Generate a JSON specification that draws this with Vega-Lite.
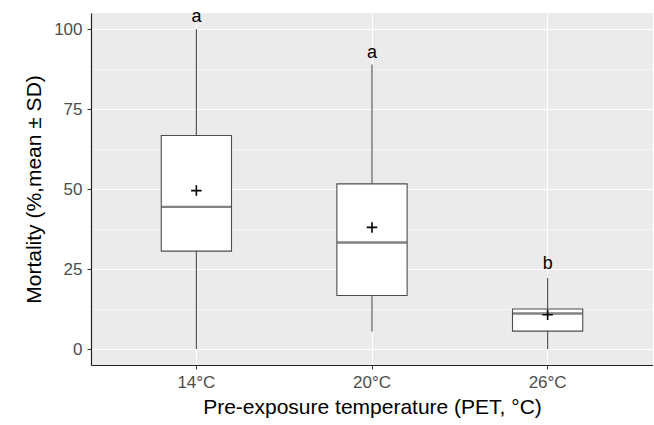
{
  "$schema": "https://vega.github.io/schema/vega-lite/v6.json",
  "width": 562,
  "height": 352,
  "autosize": {"type": "none"},
  "padding": {"left": 91, "top": 13, "right": 0, "bottom": 60},
  "background": "white",
  "config": {
    "view": {"fill": "#EBEBEB", "stroke": null},
    "font": "Liberation Sans",
    "axis": {
      "domainColor": "#222222",
      "domainWidth": 1.2,
      "tickColor": "#333333",
      "tickWidth": 1,
      "tickSize": 4,
      "labelColor": "#4D4D4D",
      "labelFontSize": 17,
      "labelFont": "Liberation Sans",
      "titleFont": "Liberation Sans",
      "titleFontSize": 21,
      "titleFontWeight": "normal",
      "titleColor": "#000000",
      "gridColor": "#FFFFFF"
    }
  },
  "data": {
    "values": [
      {"temp": "14°C", "lower": 0, "q1": 30.6, "median": 44.4, "q3": 66.7, "upper": 100, "mean": 49.5, "letter": "a", "label_y": 102.1},
      {"temp": "20°C", "lower": 5.5, "q1": 16.7, "median": 33.3, "q3": 51.6, "upper": 88.9, "mean": 38.0, "letter": "a", "label_y": 91.0},
      {"temp": "26°C", "lower": 0, "q1": 5.6, "median": 11.1, "q3": 12.5, "upper": 22.2, "mean": 10.7, "letter": "b", "label_y": 25.0}
    ]
  },
  "encoding": {
    "x": {
      "field": "temp",
      "type": "nominal",
      "sort": ["14°C", "20°C", "26°C"],
      "scale": {"type": "band", "paddingInner": 0.6, "paddingOuter": 0.4},
      "axis": {
        "title": "Pre-exposure temperature (PET, °C)",
        "labelAngle": 0,
        "grid": true,
        "gridWidth": 1.1,
        "bandPosition": 0.5,
        "labelPadding": 5,
        "titlePadding": 6
      }
    }
  },
  "layer": [
    {
      "mark": {"type": "rule", "color": "#4D4D4D", "strokeWidth": 1.1},
      "encoding": {
        "y": {
          "field": "lower",
          "type": "quantitative",
          "scale": {"domain": [-5, 105], "nice": false, "zero": false},
          "axis": {
            "title": "Mortality (%,mean ± SD)",
            "values": [0, 12.5, 25, 37.5, 50, 62.5, 75, 87.5, 100],
            "labelExpr": "datum.value % 25 === 0 ? datum.label : ''",
            "grid": true,
            "gridWidth": {"condition": {"test": "datum.value % 25 === 0", "value": 1.1}, "value": 0.55},
            "tickSize": {"condition": {"test": "datum.value % 25 === 0", "value": 4}, "value": 0},
            "labelPadding": 5,
            "titlePadding": 9
          }
        },
        "y2": {"field": "upper"}
      }
    },
    {
      "mark": {"type": "bar", "fill": "white", "stroke": "#4D4D4D", "strokeWidth": 1.1},
      "encoding": {
        "y": {"field": "q1", "type": "quantitative"},
        "y2": {"field": "q3"}
      }
    },
    {
      "mark": {"type": "tick", "color": "#4D4D4D", "thickness": 2.4, "size": 70, "orient": "horizontal"},
      "encoding": {
        "y": {"field": "median", "type": "quantitative"}
      }
    },
    {
      "mark": {"type": "point", "shape": "M-1,0H1M0,-1V1", "size": 110, "filled": false, "stroke": "#000000", "strokeWidth": 1.6, "opacity": 1},
      "encoding": {
        "y": {"field": "mean", "type": "quantitative"}
      }
    },
    {
      "mark": {"type": "text", "fontSize": 18, "color": "#000000", "baseline": "alphabetic", "font": "Liberation Sans"},
      "encoding": {
        "y": {"field": "label_y", "type": "quantitative"},
        "text": {"field": "letter"}
      }
    }
  ]
}
